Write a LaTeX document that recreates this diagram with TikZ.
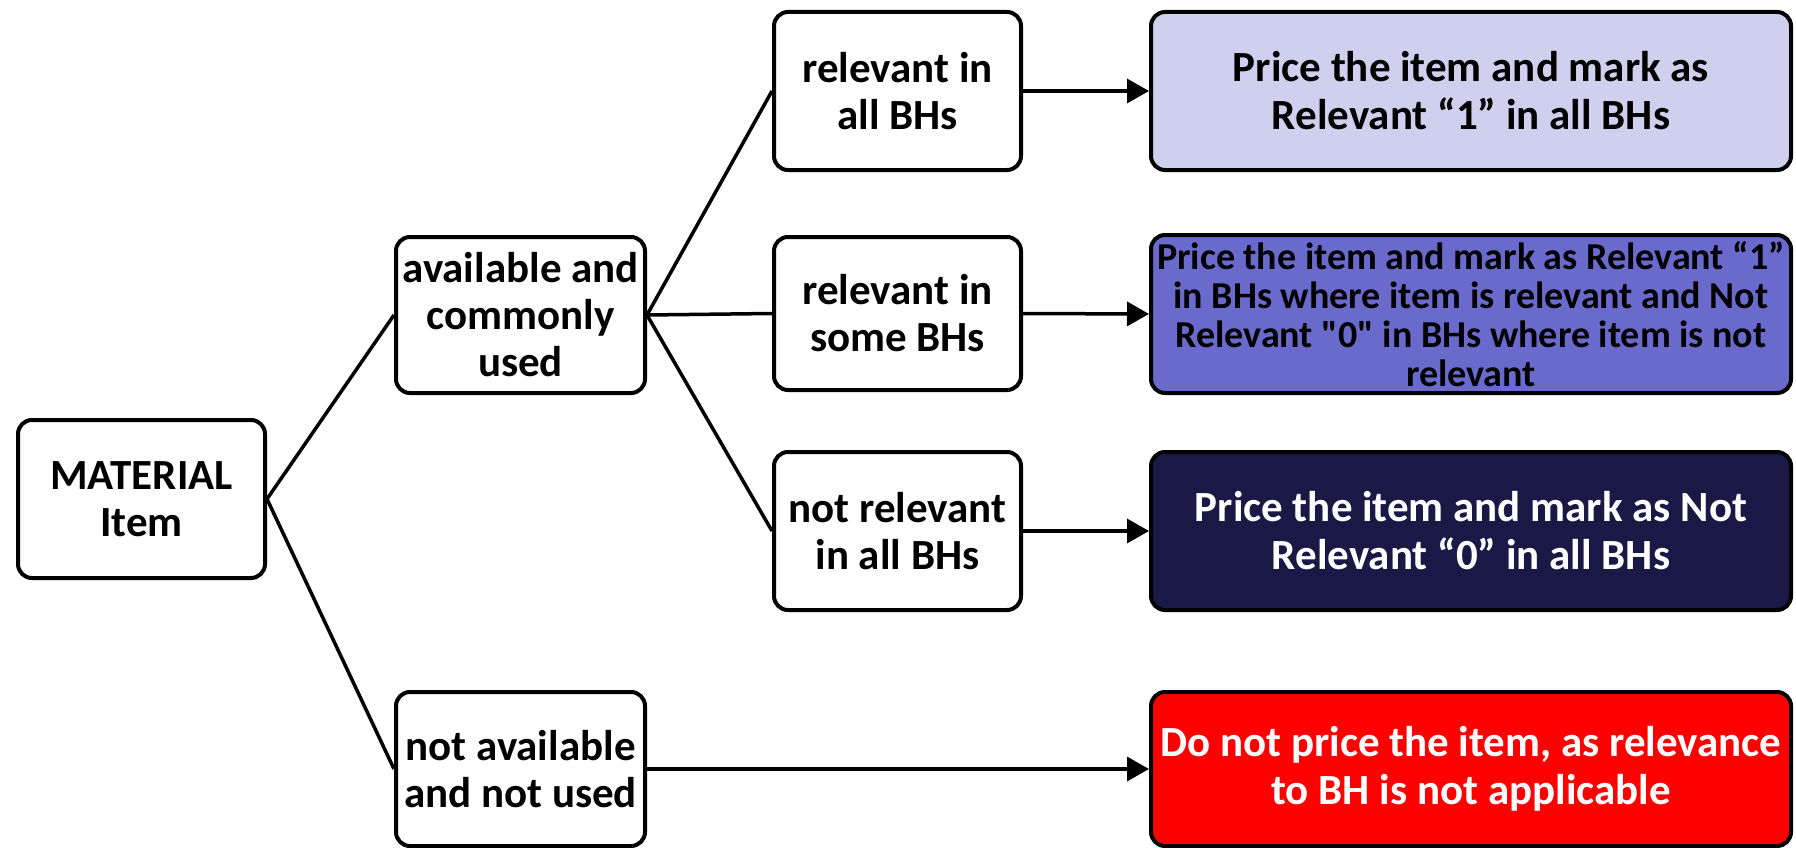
\documentclass[tikz,border=0pt]{standalone}
\usepackage{fontspec}
\setmainfont{Carlito}[Ligatures=TeXOff]
\usetikzlibrary{arrows.meta}
\definecolor{lav}{HTML}{CFCFEE}
\definecolor{mid}{HTML}{6A6ACD}
\definecolor{navy}{HTML}{1A1946}
\definecolor{red}{HTML}{FF0000}
\tikzset{
  box/.style={draw=black, line width=4pt, rounded corners=14pt, align=center, inner sep=0pt,
    font=\bfseries\fontsize{43}{47}\selectfont},
  small/.style={box, minimum width=247pt},
  big/.style={box, minimum width=640pt, font=\bfseries\fontsize{43}{48}\selectfont},
  conn/.style={line width=3.5pt},
  arr/.style={line width=3.5pt, -{Triangle[length=22pt,width=24pt]}}
}
\begin{document}
\begin{tikzpicture}[x=1pt,y=-1pt]
\useasboundingbox (0,0) rectangle (1796,848);
\node[small, minimum height=158pt] (mat) at (141.5,499) {MATERIAL\\Item};
\node[small, minimum width=249pt, minimum height=156pt] (avail) at (520.5,315) {available and\\commonly\\used};
\node[small, minimum width=249pt, minimum height=154pt] (notav) at (520.5,769) {not available\\and not used};
\node[small, minimum height=158pt] (rall) at (897.5,91) {relevant in\\all BHs};
\node[small, minimum height=153pt] (rsome) at (897.5,313.5) {relevant in\\some BHs};
\node[small, minimum height=158pt] (rnot) at (897.5,531) {not relevant\\in all BHs};
\node[big, minimum height=158pt, fill=lav] (p1) at (1471,91) {Price the item and mark as\\Relevant “1” in all BHs};
\node[big, minimum height=158pt, fill=mid, font=\bfseries\fontsize{38}{39}\selectfont] (p2) at (1471,314) {Price the item and mark as Relevant “1”\\in BHs where item is relevant and Not\\Relevant "0" in BHs where item is not\\relevant};
\node[big, minimum height=158pt, fill=navy, text=white] (p3) at (1471,531) {Price the item and mark as Not\\Relevant “0” in all BHs};
\node[big, minimum height=154pt, fill=red, text=white] (p4) at (1471,769) {Do not price the item, as relevance\\to BH is not applicable};
\draw[conn] (mat.east) -- (avail.west);
\draw[conn] (mat.east) -- (notav.west);
\draw[conn] (avail.east) -- (rall.west);
\draw[conn] (avail.east) -- (rsome.west);
\draw[conn] (avail.east) -- (rnot.west);
\draw[arr] (rall.east) -- (p1.west);
\draw[arr] (rsome.east) -- (p2.west);
\draw[arr] (rnot.east) -- (p3.west);
\draw[arr] (notav.east) -- (p4.west);
\end{tikzpicture}
\end{document}
